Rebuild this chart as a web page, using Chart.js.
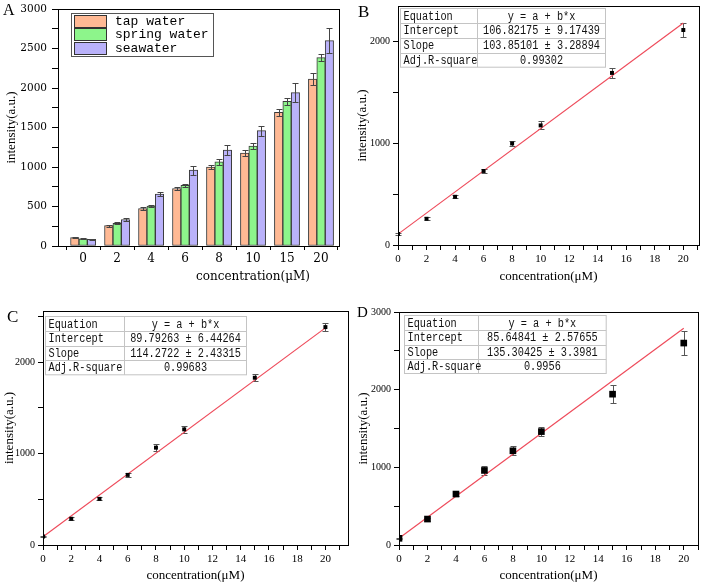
<!DOCTYPE html>
<html>
<head>
<meta charset="utf-8">
<script src="https://cdn.jsdelivr.net/npm/chart.js@4.4.1/dist/chart.umd.min.js"></script>
<style>
  html, body { margin: 0; padding: 0; background: #fff; }
  #wrap { position: relative; width: 709px; height: 585px; overflow: hidden; }
  canvas { position: absolute; }
</style>
</head>
<body>
<div id="wrap">
  <canvas id="cA" width="350" height="290" style="left:0;top:0"></canvas>
  <canvas id="cB" width="359" height="290" style="left:350px;top:0"></canvas>
  <canvas id="cC" width="352" height="290" style="left:0;top:295px"></canvas>
  <canvas id="cD" width="357" height="290" style="left:352px;top:295px"></canvas>
</div>
<script>
/* ---- data ---- */
const concLabels  = ["0", "2", "4", "6", "8", "10", "15", "20"];
const concValues  = [0, 2, 4, 6, 8, 10, 15, 20];
const seriesNames = ["tap water", "spring water", "seawater"];

const tapWater    = [108, 258, 474, 728, 998, 1176, 1692, 2114];
const tapErr      = [8, 14, 15, 22, 22, 40, 48, 72];
const springWater = [92, 287, 505, 767, 1065, 1265, 1830, 2384];
const springErr   = [5, 14, 15, 18, 35, 35, 40, 45];
const seaWater    = [86, 334, 656, 960, 1213, 1460, 1942, 2600];
const seaErr      = [5, 20, 28, 55, 60, 62, 118, 155];

const fitIntercept = [106.82175, 89.79263, 85.64841];   // B, C, D
const fitSlope     = [103.85101, 114.2722, 135.30425];

// y tick positions (labels every 1000, minor marks between)
const yTicksB = [0, 500, 1000, 1500, 2000];
const yTicksC = [0, 500, 1000, 1500, 2000, 2500];
const yTicksD = [0, 500, 1000, 1500, 2000, 2500, 3000];

const tableRows = ["Equation", "Intercept", "Slope", "Adj.R-square"];
const tableB = ["y = a + b*x", "106.82175 ± 9.17439", "103.85101 ± 3.28894", "0.99302"];
const tableC = ["y = a + b*x", "89.79263 ± 6.44264", "114.2722 ± 2.43315", "0.99683"];
const tableD = ["y = a + b*x", "85.64841 ± 2.57655", "135.30425 ± 3.3981", "0.9956"];

const barColors = ["#FFB994", "#8DF58B", "#BAB2FA"];
const fitColor  = "#EE4B5B";

Chart.defaults.font.family = "'Liberation Serif', serif";
Chart.defaults.color = "#000";

/* ---- helpers ---- */
function fixSize(size) {
  return s => {
    if (s.isHorizontal()) s.height = size; else s.width = size;
    s.paddingLeft = s.paddingRight = s.paddingTop = s.paddingBottom = 0;
  };
}

const errorBars = {
  id: "errorBars",
  draw(chart, below) {
    const ctx = chart.ctx;
    chart.data.datasets.forEach((ds, i) => {
      if (!ds.errors || !!ds.errorsBelow !== below) return;
      const meta = chart.getDatasetMeta(i);
      const ys = chart.scales[meta.yAxisID];
      const c = ds.errorCap || 3;
      ctx.save();
      ctx.strokeStyle = ds.errorColor || "#444";
      ctx.lineWidth = 1;
      meta.data.forEach((el, j) => {
        const v = ds.data[j].y, e = ds.errors[j];
        const x = Math.round(el.x) + 0.5;
        const t = Math.round(ys.getPixelForValue(v + e)) + 0.5;
        const b = Math.round(ys.getPixelForValue(v - e)) + 0.5;
        ctx.beginPath();
        ctx.moveTo(x, t); ctx.lineTo(x, b);
        ctx.moveTo(x - c, t); ctx.lineTo(x + c, t);
        ctx.moveTo(x - c, b); ctx.lineTo(x + c, b);
        ctx.stroke();
      });
      ctx.restore();
    });
  },
  beforeDatasetsDraw(chart) { this.draw(chart, true); },
  afterDatasetsDraw(chart) { this.draw(chart, false); }
};

const frame = {
  id: "frame",
  afterDraw(chart) {
    const { ctx, chartArea: a } = chart;
    ctx.save();
    ctx.strokeStyle = "#000";
    ctx.lineWidth = 1;
    const l = Math.round(a.left) + 0.5, t = Math.round(a.top) + 0.5;
    ctx.strokeRect(l, t, Math.round(a.right) - Math.round(a.left), Math.round(a.bottom) - Math.round(a.top));
    ctx.restore();
  }
};

Chart.register(errorBars, frame);

function notes(items) {
  return {
    id: "notes",
    afterDraw(chart) {
      const ctx = chart.ctx;
      ctx.save();
      items.forEach(n => {
        ctx.font = n.font;
        ctx.fillStyle = "#000";
        ctx.textAlign = n.align || "left";
        ctx.textBaseline = "alphabetic";
        ctx.fillText(n.text, n.x, n.y);
      });
      ctx.restore();
    }
  };
}

function statTable(values, dx, dy, w, h, split) {
  return {
    id: "statTable",
    afterDraw(chart) {
      const { ctx, chartArea: a } = chart;
      const x0 = Math.round(a.left + dx) + 0.5, y0 = Math.round(a.top + dy) + 0.5;
      const rh = h / tableRows.length;
      const xs = Math.round(x0 + split) + 0.5;
      ctx.save();
      ctx.fillStyle = "#fff";
      ctx.fillRect(x0, y0, w, h);
      ctx.strokeStyle = "#c4c4c4";
      ctx.lineWidth = 1;
      ctx.strokeRect(x0, y0, w, h);
      ctx.beginPath();
      for (let i = 1; i < tableRows.length; i++) {
        const y = Math.round(y0 + i * rh) + 0.5;
        ctx.moveTo(x0, y); ctx.lineTo(x0 + w, y);
      }
      ctx.moveTo(xs, y0); ctx.lineTo(xs, y0 + h);
      ctx.stroke();
      ctx.fillStyle = "#111";
      ctx.font = "12.5px 'Liberation Mono', monospace";
      ctx.textBaseline = "middle";
      const sx = 0.82;
      tableRows.forEach((r, i) => {
        const y = y0 + (i + 0.5) * rh + 0.5;
        ctx.save();
        ctx.scale(sx, 1);
        ctx.textAlign = "left";
        ctx.fillText(r, (x0 + 3) / sx, y);
        ctx.textAlign = "center";
        ctx.fillText(values[i], (xs + (x0 + w - xs) / 2) / sx, y);
        ctx.restore();
      });
      ctx.restore();
    }
  };
}

function boxLegend(x, y, w, h) {
  return {
    id: "boxLegend",
    afterDraw(chart) {
      const ctx = chart.ctx;
      const sets = chart.data.datasets;
      const rh = (h - 3) / sets.length;
      ctx.save();
      ctx.fillStyle = "#fff";
      ctx.fillRect(x + 0.5, y + 0.5, w, h);
      ctx.strokeStyle = "#555";
      ctx.lineWidth = 1;
      ctx.strokeRect(x + 0.5, y + 0.5, w, h);
      ctx.font = "13px 'Liberation Mono', monospace";
      ctx.textBaseline = "middle";
      sets.forEach((ds, i) => {
        const ty = Math.round(y + 2 + i * rh);
        ctx.fillStyle = ds.backgroundColor;
        ctx.fillRect(x + 3.5, ty + 0.5, 32, rh - 1.5);
        ctx.strokeStyle = "#333";
        ctx.strokeRect(x + 3.5, ty + 0.5, 32, Math.round(rh - 1.5));
        ctx.fillStyle = "#000";
        ctx.fillText(ds.label, x + 44, ty + rh / 2);
      });
      ctx.restore();
    }
  };
}

/* ---- panel A: grouped bars ---- */
const barSets = [tapWater, springWater, seaWater].map((vals, k) => ({
  label: seriesNames[k],
  data: vals.map((y, i) => ({ x: i, y })),
  errors: [tapErr, springErr, seaErr][k],
  errorCap: 3,
  errorColor: "#444",
  backgroundColor: barColors[k],
  borderColor: "#3a3a3a",
  borderWidth: 1,
  borderSkipped: false,
  barThickness: 8.4
}));

new Chart(document.getElementById("cA"), {
  type: "bar",
  data: { datasets: barSets },
  options: {
    responsive: false,
    animation: false,
    events: [],
    layout: { padding: { top: 9, right: 11, left: 0, bottom: 0 } },
    plugins: { legend: { display: false }, tooltip: { enabled: false } },
    scales: {
      x: {
        type: "linear", min: -0.74, max: 7.53, offset: false,
        ticks: {
          stepSize: 0.5, autoSkip: false, maxRotation: 0, includeBounds: false, padding: 2,
          font: { family: "'DejaVu Serif', serif", size: 12 },
          callback: v => Number.isInteger(v) ? concLabels[v] : ""
        },
        grid: {
          offset: false, drawOnChartArea: false, tickLength: 4,
          color: c => (c.tick && Number.isInteger(c.tick.value)) ? "rgba(0,0,0,0)" : "#000"
        },
        border: { color: "#000" },
        afterFit: fixSize(44)
      },
      y: {
        min: 0, max: 3000,
        ticks: {
          stepSize: 250, includeBounds: false, padding: 5,
          font: { family: "'DejaVu Serif', serif", size: 10.5 },
          callback: v => v % 500 === 0 ? String(v) : ""
        },
        grid: { drawOnChartArea: false, tickLength: 6, color: "#000" },
        border: { color: "#000" },
        title: { display: true, text: "intensity(a.u.)", font: { size: 13 }, padding: { top: 4, bottom: 0 } },
        afterFit: fixSize(58)
      }
    }
  },
  plugins: [
    boxLegend(71, 13, 142, 43),
    notes([
      { text: "A", x: 3, y: 15, font: "16px 'Liberation Serif', serif" },
      { text: "concentration(μM)", x: 253, y: 280, align: "center", font: "12px 'DejaVu Serif', serif" }
    ])
  ]
});

/* ---- panels B, C, D: linear fits ---- */
function fitPanel(id, values, errors, k, table, yTicks, cfg) {
  const a = fitIntercept[k], b = fitSlope[k];
  const x1 = concValues[concValues.length - 1];
  new Chart(document.getElementById(id), {
    type: "scatter",
    data: {
      datasets: [
        {
          data: concValues.map((x, i) => ({ x, y: values[i] })),
          errors, errorsBelow: true, errorCap: 3, errorColor: "#555",
          pointStyle: "rect", pointRadius: cfg.r, backgroundColor: "#000", borderWidth: 0
        },
        {
          data: [{ x: 0, y: a }, { x: x1, y: a + b * x1 }],
          showLine: true, pointRadius: 0, borderColor: fitColor, borderWidth: 1.2
        }
      ]
    },
    options: {
      responsive: false,
      animation: false,
      events: [],
      layout: { padding: { top: cfg.top, right: cfg.right, left: 0, bottom: 0 } },
      plugins: { legend: { display: false }, tooltip: { enabled: false } },
      scales: {
        x: {
          type: "linear", min: 0, max: cfg.xmax,
          ticks: {
            stepSize: 1, autoSkip: false, maxRotation: 0, includeBounds: false, padding: 3,
            font: { size: 11 },
            callback: v => (v % 2 === 0 && v <= 20) ? String(v) : ""
          },
          grid: { drawOnChartArea: false, tickLength: 5, color: "#000" },
          border: { color: "#000" },
          title: { display: true, text: "concentration(μM)", font: { size: 13 }, padding: { top: 0, bottom: cfg.xtp } },
          afterFit: fixSize(cfg.xh)
        },
        y: {
          min: 0, max: cfg.ymax,
          afterBuildTicks: s => { s.ticks = yTicks.map(v => ({ value: v })); },
          ticks: {
            autoSkip: false, padding: 3,
            font: { size: 10 },
            callback: v => v % 1000 === 0 ? String(v) : ""
          },
          grid: { drawOnChartArea: false, tickLength: 5, color: "#000" },
          border: { color: "#000" },
          title: { display: true, text: "intensity(a.u.)", font: { size: 13 }, padding: { top: cfg.ytp, bottom: 0 } },
          afterFit: fixSize(cfg.yw)
        }
      }
    },
    plugins: [
      statTable(table, cfg.t[0], cfg.t[1], cfg.t[2], cfg.t[3], cfg.t[4]),
      notes([{ text: cfg.letter, x: cfg.lx, y: cfg.ly, font: cfg.lf + "px 'Liberation Serif', serif" }])
    ]
  });
}

fitPanel("cB", tapWater, tapErr, 0, tableB, yTicksB, {
  r: 2.8, top: 6, right: 10, yw: 48, xh: 45, xmax: 21.1, ymax: 2350, ytp: 5, xtp: 6,
  t: [2, 1.5, 205, 58.7, 76.7], letter: "B", lx: 8, ly: 17, lf: 17
});
fitPanel("cC", springWater, springErr, 1, tableC, yTicksC, {
  r: 2.8, top: 16, right: 1, yw: 43, xh: 40, xmax: 21.6, ymax: 2560, ytp: 2, xtp: 2,
  t: [1.7, 5, 201, 58.3, 78.3], letter: "C", lx: 7, ly: 27, lf: 17
});
fitPanel("cD", seaWater, seaErr, 2, tableD, yTicksD, {
  r: 4.7, top: 17, right: 11, yw: 47, xh: 40, xmax: 21.0, ymax: 3000, ytp: 3.5, xtp: 2,
  t: [5.3, 2.6, 201.7, 58, 73.4], letter: "D", lx: 5, ly: 22, lf: 15
});
</script>
</body>
</html>
